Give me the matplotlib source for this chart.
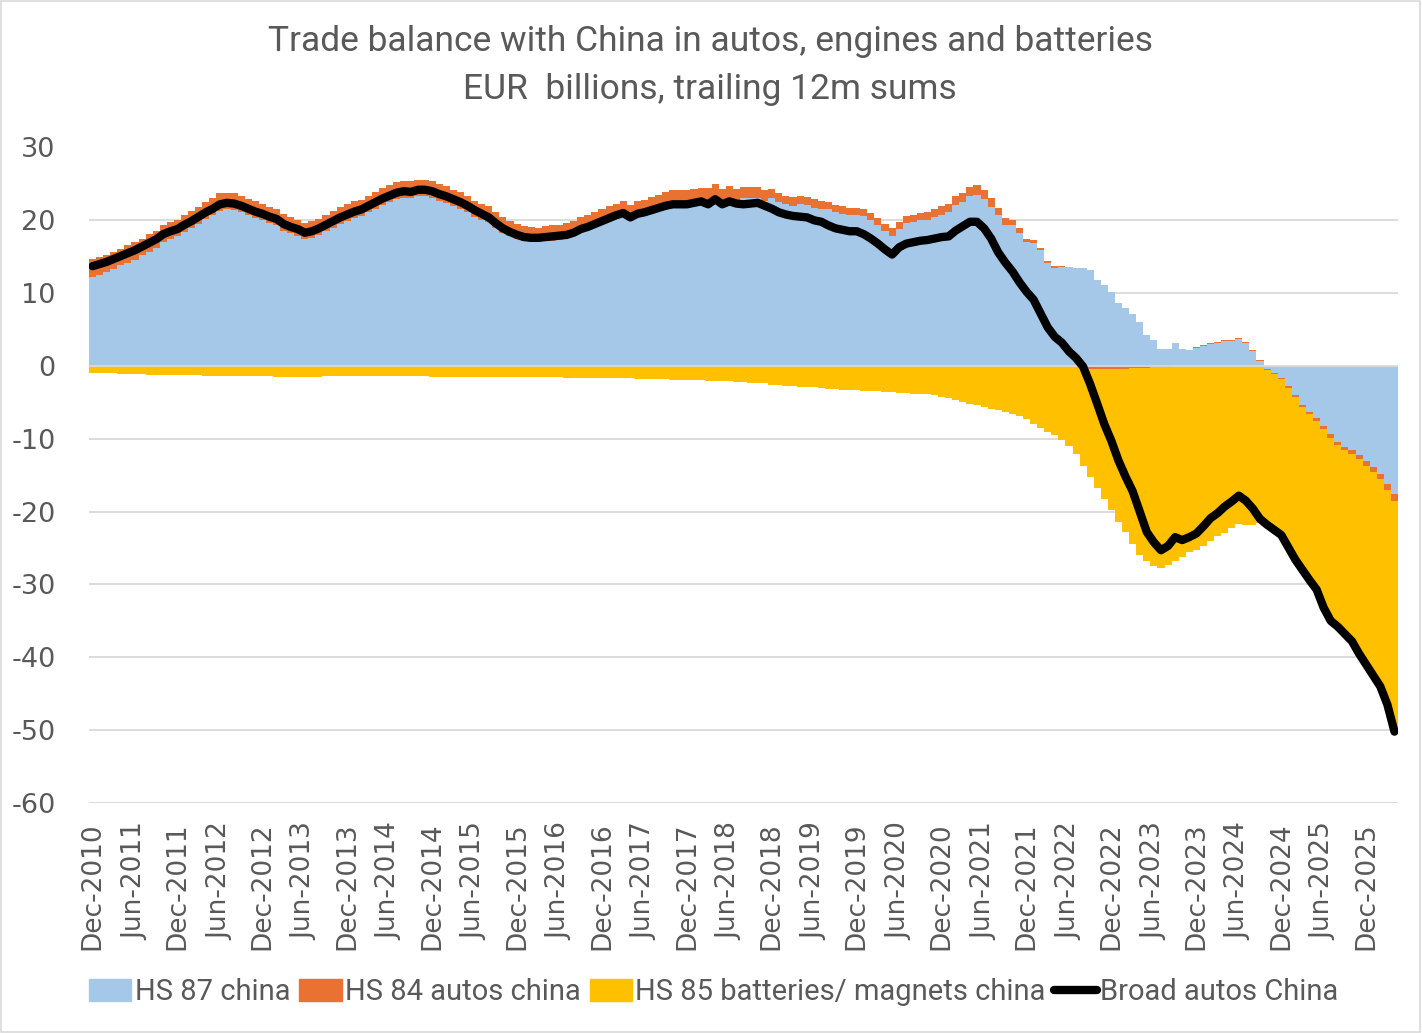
import matplotlib
matplotlib.use("Agg")
import matplotlib.pyplot as plt
import matplotlib.font_manager as fm
from matplotlib.patches import Rectangle
from matplotlib.lines import Line2D
import numpy as np

# ---------------- data (EUR bn, trailing 12m sums, monthly Dec-2010 .. Apr-2026) -------------
hs87_china = [
    12.2, 12.5, 12.9, 13.3, 13.8, 14.2, 14.6, 15.2, 15.7, 16.2, 17.0, 17.4,
    17.8, 18.4, 18.9, 19.5, 20.2, 20.7, 21.3, 21.5, 21.4, 21.1, 20.7, 20.3,
    20.0, 19.6, 19.3, 18.6, 18.2, 17.9, 17.4, 17.6, 18.0, 18.5, 19.0, 19.5,
    19.9, 20.3, 20.6, 21.1, 21.6, 22.1, 22.5, 22.9, 23.1, 23.0, 23.3, 23.3,
    23.1, 22.7, 22.4, 22.0, 21.6, 21.1, 20.5, 20.0, 19.8, 19.0, 18.3, 17.8,
    17.4, 17.1, 17.0, 17.0, 17.1, 17.2, 17.3, 17.7, 18.0, 18.5, 18.8, 19.2,
    19.6, 20.0, 20.4, 20.7, 20.1, 20.8, 21.0, 21.3, 21.6, 22.3, 22.5, 22.5,
    22.5, 22.7, 22.9, 22.7, 23.4, 22.7, 23.1, 22.8, 23.0, 23.0, 23.1, 22.7,
    23.0, 22.5, 22.2, 22.0, 22.2, 22.1, 21.7, 21.5, 21.5, 21.1, 20.9, 20.7,
    20.7, 20.6, 20.0, 19.3, 18.5, 17.8, 18.8, 19.6, 19.8, 20.0, 20.1, 20.4,
    20.8, 21.1, 22.1, 22.5, 23.3, 23.5, 22.9, 21.8, 20.7, 19.4, 19.3, 18.3,
    17.0, 16.9, 15.9, 14.1, 13.5, 13.6, 13.6, 13.5, 13.4, 13.2, 11.8, 11.1,
    10.2, 8.6, 7.9, 7.2, 6.1, 4.3, 3.6, 2.3, 2.4, 3.1, 2.4, 2.15,
    2.5, 2.8, 3.0, 3.15, 3.45, 3.45, 3.7, 3.15, 2.1, 0.75, -0.4, -0.9,
    -1.6, -2.8, -4.0, -5.3, -6.3, -7.1, -8.2, -9.4, -10.4, -11.1, -11.5, -12.2,
    -13.1, -13.9, -14.8, -16.2, -17.6,
]

hs84_autos_china = [
    2.5, 2.4, 2.4, 2.4, 2.3, 2.4, 2.4, 2.3, 2.4, 2.4, 2.3, 2.4,
    2.3, 2.3, 2.4, 2.3, 2.3, 2.3, 2.4, 2.3, 2.3, 2.3, 2.2, 2.3,
    2.3, 2.2, 2.3, 2.3, 2.2, 2.2, 2.2, 2.3, 2.2, 2.3, 2.3, 2.3,
    2.3, 2.3, 2.2, 2.3, 2.3, 2.3, 2.3, 2.3, 2.3, 2.4, 2.3, 2.3,
    2.3, 2.3, 2.3, 2.2, 2.3, 2.2, 2.2, 2.2, 2.1, 2.1, 2.1, 2.1,
    2.1, 2.1, 2.1, 2.0, 2.1, 2.1, 2.0, 1.9, 1.9, 1.9, 1.9, 2.0,
    1.9, 1.9, 1.9, 1.9, 2.0, 1.9, 1.8, 1.9, 1.9, 1.6, 1.6, 1.7,
    1.6, 1.6, 1.6, 1.7, 1.6, 1.6, 1.6, 1.5, 1.6, 1.6, 1.5, 1.5,
    1.3, 1.2, 1.2, 1.2, 1.2, 1.1, 1.2, 1.2, 1.0, 1.0, 1.0, 1.0,
    1.0, 1.0, 1.0, 1.0, 1.0, 1.1, 1.0, 1.0, 1.0, 1.0, 1.0, 1.1,
    1.1, 1.1, 1.2, 1.2, 1.3, 1.4, 1.3, 1.2, 1.0, 0.9, 0.8, 0.6,
    0.5, 0.4, 0.35, 0.25, 0.2, 0.1, 0.05, 0.0, -0.4, -0.45, -0.45, -0.4,
    -0.4, -0.35, -0.35, -0.3, -0.3, -0.25, -0.2, -0.15, -0.1, -0.05, 0.0, 0.05,
    0.1, 0.1, 0.12, 0.15, 0.15, 0.15, 0.2, 0.15, 0.1, 0.05, -0.1, -0.15,
    -0.2, -0.25, -0.3, -0.3, -0.35, -0.4, -0.4, -0.45, -0.5, -0.5, -0.55, -0.6,
    -0.6, -0.65, -0.7, -0.8, -0.9,
]

hs85_batteries_china = [
    -0.9, -0.95, -1.0, -1.0, -1.05, -1.1, -1.1, -1.15, -1.2, -1.2, -1.25, -1.25,
    -1.3, -1.3, -1.3, -1.3, -1.35, -1.35, -1.35, -1.4, -1.4, -1.4, -1.4, -1.4,
    -1.4, -1.4, -1.45, -1.45, -1.45, -1.45, -1.45, -1.45, -1.45, -1.4, -1.4, -1.4,
    -1.4, -1.4, -1.4, -1.4, -1.4, -1.4, -1.4, -1.4, -1.4, -1.4, -1.4, -1.4,
    -1.45, -1.45, -1.45, -1.5, -1.5, -1.5, -1.5, -1.5, -1.5, -1.5, -1.5, -1.5,
    -1.55, -1.55, -1.55, -1.55, -1.55, -1.55, -1.55, -1.6, -1.6, -1.6, -1.6, -1.65,
    -1.65, -1.65, -1.7, -1.7, -1.7, -1.8, -1.8, -1.8, -1.85, -1.85, -1.9, -1.9,
    -1.9, -1.95, -1.95, -2.0, -2.05, -2.1, -2.1, -2.2, -2.25, -2.3, -2.35, -2.4,
    -2.55, -2.6, -2.7, -2.75, -2.85, -2.9, -2.95, -3.0, -3.1, -3.2, -3.25, -3.3,
    -3.35, -3.4, -3.45, -3.5, -3.55, -3.6, -3.65, -3.75, -3.8, -3.85, -3.9, -4.0,
    -4.2, -4.4, -4.7, -4.95, -5.15, -5.4, -5.6, -5.85, -6.1, -6.35, -6.6, -6.9,
    -7.25, -7.9, -8.55, -9.0, -9.5, -10.2, -11.0, -12.1, -13.3, -14.8, -16.3, -17.9,
    -19.4, -21.1, -22.5, -24.2, -25.6, -26.5, -27.3, -27.6, -27.2, -26.7, -26.2, -25.5,
    -25.3, -24.7, -24.0, -23.4, -22.9, -22.2, -21.7, -21.8, -21.8, -21.6, -21.3, -21.45,
    -21.4, -21.85, -22.3, -22.4, -22.75, -23.2, -24.6, -25.15, -24.9, -25.2, -25.75, -26.7,
    -27.3, -27.95, -28.5, -29.5, -31.7,
]

broad_autos_china = [
    13.7, 14.0, 14.3, 14.7, 15.1, 15.5, 15.9, 16.4, 16.9, 17.4, 18.1, 18.5,
    18.8, 19.4, 19.9, 20.5, 21.1, 21.6, 22.2, 22.4, 22.3, 22.0, 21.6, 21.2,
    20.9, 20.5, 20.2, 19.5, 19.1, 18.8, 18.3, 18.5, 18.9, 19.4, 19.9, 20.4,
    20.8, 21.2, 21.5, 22.0, 22.5, 23.0, 23.4, 23.8, 24.0, 23.9, 24.2, 24.2,
    24.0, 23.6, 23.3, 22.9, 22.5, 22.0, 21.4, 20.9, 20.4, 19.6, 18.9, 18.4,
    18.0, 17.7, 17.6, 17.6, 17.7, 17.8, 17.9, 18.0, 18.3, 18.8, 19.1, 19.5,
    19.9, 20.3, 20.7, 21.0, 20.4, 20.9, 21.1, 21.4, 21.7, 22.0, 22.2, 22.2,
    22.2, 22.4, 22.6, 22.2, 22.9, 22.2, 22.6, 22.3, 22.2, 22.3, 22.4, 22.0,
    21.6, 21.1, 20.8, 20.6, 20.5, 20.4, 20.0, 19.8, 19.3, 18.9, 18.7, 18.5,
    18.5, 18.1, 17.5, 16.8, 16.0, 15.3, 16.3, 16.8, 17.0, 17.2, 17.3, 17.5,
    17.7, 17.8, 18.6, 19.2, 19.8, 19.8, 18.9, 17.5, 15.6, 14.2, 13.0, 11.5,
    10.2, 9.1, 7.2, 5.3, 4.0, 3.2, 2.0, 1.1, -0.1, -2.5, -5.2, -8.0,
    -10.3, -13.0, -15.2, -17.2, -20.0, -22.8, -24.2, -25.3, -24.7, -23.5, -23.9, -23.5,
    -23.0, -22.0, -20.9, -20.2, -19.3, -18.6, -17.8, -18.5, -19.6, -21.0, -21.8, -22.5,
    -23.2, -24.9, -26.6, -28.0, -29.4, -30.7, -33.2, -35.0, -35.8, -36.8, -37.8, -39.5,
    -41.0, -42.5, -44.0, -46.5, -50.2,
]

tick_labels = [
    "Dec-2010", "Jun-2011", "Dec-2011", "Jun-2012", "Dec-2012", "Jun-2013",
    "Dec-2013", "Jun-2014", "Dec-2014", "Jun-2015", "Dec-2015", "Jun-2016",
    "Dec-2016", "Jun-2017", "Dec-2017", "Jun-2018", "Dec-2018", "Jun-2019",
    "Dec-2019", "Jun-2020", "Dec-2020", "Jun-2021", "Dec-2021", "Jun-2022",
    "Dec-2022", "Jun-2023", "Dec-2023", "Jun-2024", "Dec-2024", "Jun-2025",
    "Dec-2025",
]
y_ticks = [-60, -50, -40, -30, -20, -10, 0, 10, 20, 30]
series_names = ["HS 87 china", "HS 84 autos china", "HS 85 batteries/ magnets china"]
line_name = "Broad autos China"
title_lines = ["Trade balance with China in autos, engines and batteries",
               "EUR  billions, trailing 12m sums"]

# ---------------- style ----------------
names = {f.name for f in fm.fontManager.ttflist}
main_font = "Roboto" if "Roboto" in names else "DejaVu Sans"
tick_font = "DejaVu Sans"
plt.rcParams["font.family"] = [main_font, "DejaVu Sans"]
plt.rcParams["axes.unicode_minus"] = False

TXT = "#595959"
colors = ["#A5C8E9", "#E97132", "#FFC000"]

W, H = 1422, 1033
fig = plt.figure(figsize=(W / 100, H / 100), dpi=100)
fig.patches.append(Rectangle((0.0005, 0.0007), 0.998, 0.998, transform=fig.transFigure,
                             fill=False, edgecolor="#D9D9D9", linewidth=1.2))

L, R, T, B = 89, 1398, 147.5, 803
ax = fig.add_axes([L / W, 1 - B / H, (R - L) / W, (B - T) / H])

n = len(hs87_china)
x = np.arange(n)
pos_base = np.zeros(n)
neg_base = np.zeros(n)
for vals, col, lab in zip([hs87_china, hs84_autos_china, hs85_batteries_china], colors, series_names):
    v = np.array(vals, dtype=float)
    base = np.where(v >= 0, pos_base, neg_base)
    ax.bar(x, v, bottom=base, width=1.0, color=col, edgecolor="none", linewidth=0,
           label=lab, zorder=2)
    pos_base = pos_base + np.where(v >= 0, v, 0)
    neg_base = neg_base + np.where(v < 0, v, 0)

ax.plot(x, broad_autos_china, color="black", lw=6, solid_joinstyle="round",
        solid_capstyle="round", zorder=4, label=line_name)

ax.set_xlim(-0.5, n - 0.5)
ax.set_ylim(y_ticks[0], y_ticks[-1])
ax.set_yticks(y_ticks)
ax.set_yticklabels([str(t) for t in y_ticks])
for yv in y_ticks:
    if yv != 0:
        ax.axhline(yv, color="#D9D9D9", lw=1.3, zorder=1)
ax.axhline(0, color="#D9D9D9", lw=1.3, zorder=3)

ax.set_xticks(x[::6])
ax.set_xticklabels(tick_labels, rotation=90, ha="center", va="top")
for lbl in ax.get_xticklabels() + ax.get_yticklabels():
    lbl.set_fontfamily(tick_font)
ax.tick_params(axis="x", length=0, pad=14, labelsize=19, labelcolor=TXT)
ax.tick_params(axis="y", length=0, pad=24, labelsize=19.5, labelcolor=TXT)
for s in ax.spines.values():
    s.set_visible(False)

fig.text(0.4993, 1 - 42 / H, title_lines[0], ha="center", va="center", fontsize=25.5, color=TXT)
fig.text(0.4993, 1 - 90 / H, title_lines[1], ha="center", va="center", fontsize=25.5, color=TXT)

handles = [Rectangle((0, 0), 1, 1, color=c) for c in colors]
handles.append(Line2D([0], [0], color="black", lw=6, solid_capstyle="round"))
leg = fig.legend(handles, series_names + [line_name], loc="center",
                 bbox_to_anchor=(0.502, 1 - 992 / H), ncol=4, frameon=False,
                 prop={"family": main_font, "size": 21}, labelcolor=TXT,
                 handlelength=1.45, handleheight=0.75, handletextpad=0.12,
                 columnspacing=0.3, borderaxespad=0)

fig.savefig("out.png", dpi=100)
